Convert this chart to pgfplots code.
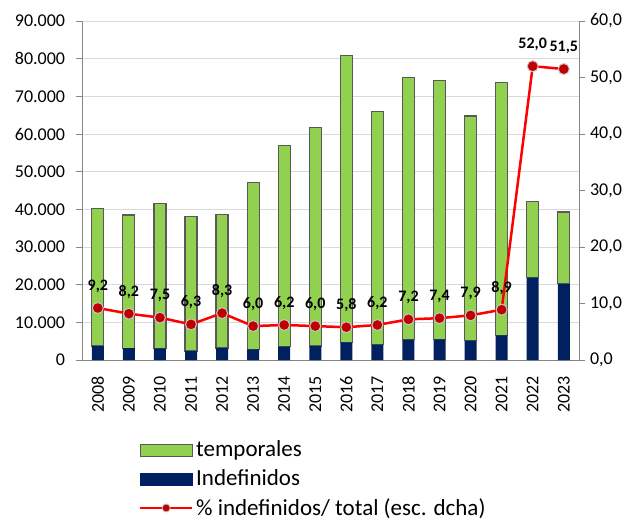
\documentclass[border=0pt]{standalone}
\usepackage{fontspec}
\setmainfont{Carlito}
\usepackage{pgfplots}
\usepackage{pgfplotstable}
\pgfplotsset{compat=1.18}
\definecolor{tgreen}{HTML}{92D050}
\definecolor{indblue}{HTML}{002060}
\definecolor{ptred}{HTML}{C00000}
\definecolor{bordergray}{HTML}{595959}
\definecolor{axgray}{HTML}{868686}
\definecolor{gridgray}{HTML}{D9D9D9}

\pgfplotstableread{
idx year temporales indef pct
0 2008 36500 3700 9.2
1 2009 35340 3160 8.2
2 2010 38480 3120 7.5
3 2011 35610 2390 6.3
4 2012 35490 3210 8.3
5 2013 44270 2830 6.0
6 2014 53470 3530 6.2
7 2015 58090 3710 6.0
8 2016 76110 4690 5.8
9 2017 61910 4090 6.2
10 2018 69600 5400 7.2
11 2019 68710 5490 7.4
12 2020 59680 5120 7.9
13 2021 67050 6550 8.9
14 2022 20160 21840 52.0
15 2023 19060 20240 51.5
}\datatable

\pgfplotsset{
  legbox/.style={legend image code/.code={\draw[##1] (0pt,-6pt) rectangle (52pt,6pt);}},
  legline/.style={legend image code/.code={\draw[##1,mark=none] (0pt,0pt) -- (52pt,0pt); \draw[##1] plot coordinates {(26pt,0pt)};}},
}

\begin{document}
\fontsize{18}{21.6}\selectfont
\begin{tikzpicture}
\begin{axis}[
  name=ax,
  scale only axis, width=497pt, height=339pt,
  xmin=-0.5, xmax=15.5, ymin=0, ymax=90000,
  ybar stacked, bar width=12pt,
  axis y line*=left, axis x line*=bottom,
  axis line style={axgray, line width=1pt},
  xtick={0,...,15},
  xticklabels={2008,2009,2010,2011,2012,2013,2014,2015,2016,2017,2018,2019,2020,2021,2022,2023},
  xticklabel style={rotate=90, anchor=east, yshift=0pt, xshift=-4pt},
  x tick style={draw=none},
  ytick={0,10000,...,90000},
  yticklabel style={xshift=-5pt},
  y tick style={axgray, line width=1pt},
  tick align=outside, major tick length=6pt,
  ymajorgrids, grid style={gridgray, line width=1pt},
  scaled y ticks=false,
  /pgf/number format/.cd, 1000 sep={.}, assume math mode=true,
  /pgfplots/.cd,
  legend cell align=left,
  legend style={at={(axis description cs:0.114,-0.235)}, anchor=north west, draw=none, fill=none, row sep=8pt,
    font=\fontsize{23}{26}\selectfont, inner sep=0pt, nodes={inner xsep=3pt, inner ysep=1pt}},
]
\addplot[fill=indblue, draw=none, forget plot] table[x=idx, y=indef] {\datatable};
\addplot[fill=tgreen, draw=bordergray, line width=1.2pt, forget plot] table[x=idx, y=temporales] {\datatable};
\addlegendimage{legbox, fill=tgreen, draw=bordergray, line width=1.2pt}
\addlegendentry{temporales}
\addlegendimage{legbox, fill=indblue, draw=indblue}
\addlegendentry{Indefinidos}
\addlegendimage{legline, red, line width=2pt, mark=*, mark options={fill=ptred, draw=gray!50, line width=0.8pt, mark size=4pt}}
\addlegendentry{\% indefinidos/ total (esc. dcha)}
\end{axis}
\begin{axis}[
  scale only axis, width=497pt, height=339pt,
  xmin=-0.5, xmax=15.5, ymin=0, ymax=60,
  axis x line=none, axis y line*=right,
  axis line style={axgray, line width=1pt},
  ytick={0,10,...,60},
  y tick style={axgray, line width=1pt},
  tick align=outside, major tick length=6pt,
  yticklabel style={xshift=-1.5pt},
  /pgf/number format/.cd, fixed, fixed zerofill, precision=1, use comma, assume math mode=true,
  /pgfplots/.cd,
]
\addplot[red, line width=2.5pt, mark=*, mark options={fill=ptred, draw=gray!45, line width=1pt, mark size=5.5pt},
  point meta=explicit,
  nodes near coords={\pgfmathprintnumber[fixed,fixed zerofill,precision=1,use comma]{\pgfplotspointmeta}},
  every node near coord/.append style={font=\bfseries\fontsize{16}{16}\selectfont, black, anchor=south, yshift=9pt},
] table[x=idx, y=pct, meta=pct] {\datatable};
\end{axis}
\pgfresetboundingbox
\path ([shift={(-82.3pt,-162pt)}]ax.south west) rectangle ([shift={(43.7pt,21pt)}]ax.north east);
\end{tikzpicture}
\end{document}
